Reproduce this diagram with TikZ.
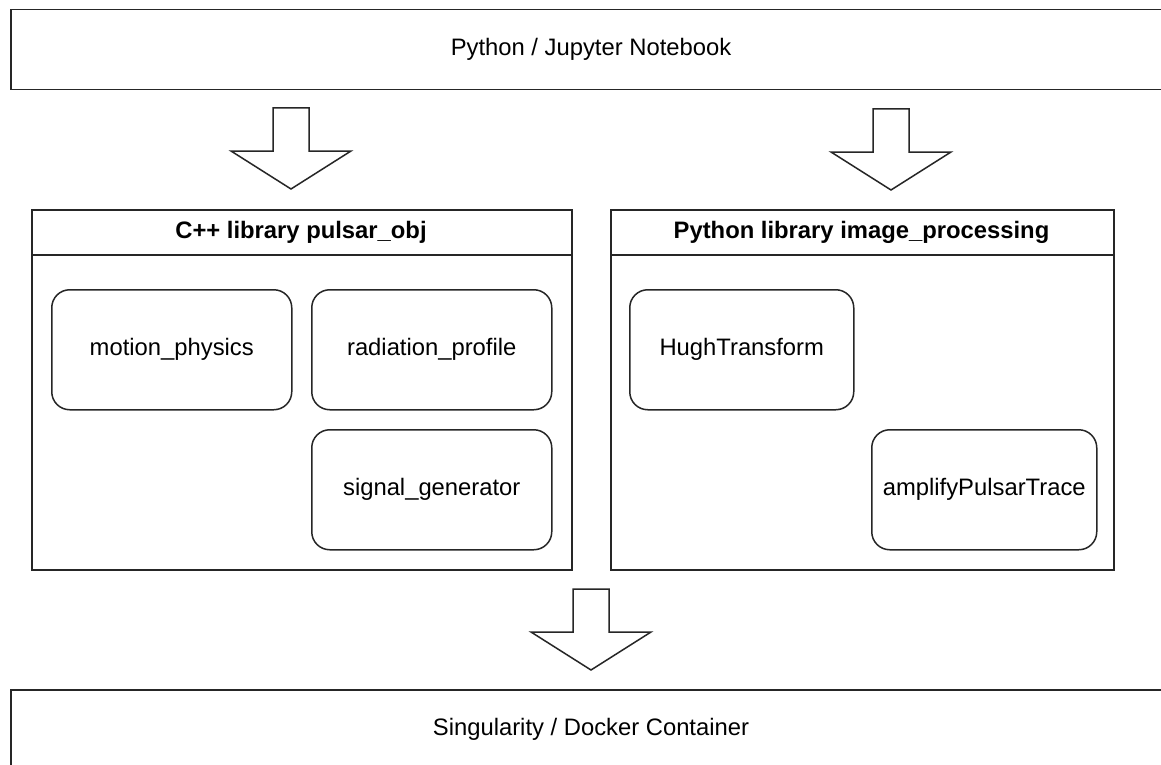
\documentclass[tikz,border=0pt]{standalone}
\usepackage{fontspec}
\setmainfont{Liberation Sans}
\begin{document}
\begin{tikzpicture}[x=1pt,y=1pt,
  line/.style={draw=black!85,line width=1.5pt},
  wide/.style={line,rectangle,anchor=north west,inner sep=0pt},
  comp/.style={line,rectangle,rounded corners=18pt,anchor=north west,inner sep=0pt,
    minimum width=240pt,minimum height=120pt},
  lbl/.style={font=\fontsize{23.8}{28}\selectfont},
  hdr/.style={font=\fontsize{23.8}{28}\selectfont\bfseries},
  barrow/.pic={\draw[line,line join=miter] (-18,0) -- (18,0) -- (18,-43) -- (60,-43) -- (0,-81) -- (-60,-43) -- (-18,-43) -- cycle;}
]
\useasboundingbox (0,0) rectangle (1161,-765);
\clip (0,0) rectangle (1161,-765);
\fill[white] (0,0) rectangle (1161,-765);

% top box
\node[wide,minimum width=1162pt,minimum height=80pt] (top) at (10,-9) {};
\node[lbl] (toplbl) at (591,-49) {Python / Jupyter Notebook};

% arrows from top
\pic at (291,-108) {barrow};
\pic at (891,-109) {barrow};

% left container
\node[wide,minimum width=540pt,minimum height=360pt] (left) at (31,-209) {};
\draw[line] (31,-255) -- (571,-255);
\node[hdr] (lefthdr) at (301,-232) {C++ library pulsar\_obj};
\node[comp] (mp) at (51,-289) {};
\node[lbl] at (mp.center) {motion\_physics};
\node[comp] (rp) at (311,-289) {};
\node[lbl] at (rp.center) {radiation\_profile};
\node[comp] (sg) at (311,-429) {};
\node[lbl] at (sg.center) {signal\_generator};

% right container
\node[wide,minimum width=503pt,minimum height=360pt] (right) at (610,-209) {};
\draw[line] (610,-255) -- (1113,-255);
\node[hdr] (righthdr) at (861.5,-232) {Python library image\_processing};
\node[comp,minimum width=224pt] (ht) at (629,-289) {};
\node[lbl] at (ht.center) {HughTransform};
\node[comp,minimum width=225pt] (ap) at (871,-429) {};
\node[lbl] at (ap.center) {amplifyPulsarTrace};

% arrow down
\pic at (591,-589) {barrow};

% bottom box
\node[wide,minimum width=1162pt,minimum height=80pt] (bot) at (10,-689) {};
\node[lbl] (botlbl) at (591,-729) {Singularity / Docker Container};
\end{tikzpicture}
\end{document}
